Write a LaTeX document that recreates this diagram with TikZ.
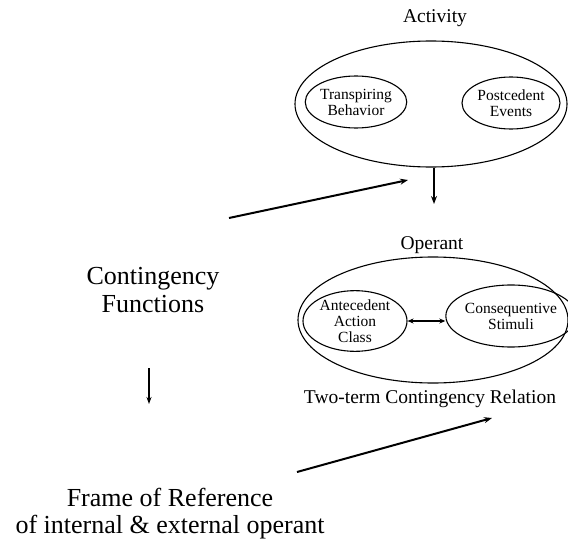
\documentclass[tikz,border=0pt]{standalone}
\usepackage{fontspec}
\setmainfont{Liberation Serif}
\usetikzlibrary{shapes.geometric,arrows.meta}
\begin{document}
\begin{tikzpicture}[x=1pt,y=-1pt,
  oval/.style={ellipse,draw,line width=1.1pt,inner sep=0pt,align=center},
  toplabel/.style={font=\fontsize{19.5}{21}\selectfont},
  smalltext/.style={font=\fontsize{15.5}{17}\selectfont},
  bigtext/.style={font=\fontsize{26}{28}\selectfont,align=center},
  arr/.style={line width=2pt,-{Stealth[length=8pt,width=6pt]}},
  thinarr/.style={line width=1.4pt,-{Stealth[length=7pt,width=5pt]}}]
\useasboundingbox (0,0) rectangle (568,543);

% Activity
\node[toplabel] (activity) at (435,18) {Activity};
\node[oval,minimum width=272pt,minimum height=126pt] (actOuter) at (431,104) {};
\node[oval,smalltext,minimum width=98pt,minimum height=52pt] (transp) at (356,102) {Transpiring\\[-1pt]Behavior};
\node[oval,smalltext,minimum width=98pt,minimum height=52pt] (postc) at (511,103) {Postcedent\\[-1pt]Events};

% Operant
\node[toplabel] (operant) at (432,245) {Operant};
\node[oval,minimum width=270pt,minimum height=126pt] (opOuter) at (433,320) {};
\node[oval,smalltext,minimum width=104pt,minimum height=56pt] (antec) at (355,321) {Antecedent\\[-1pt]Action\\[-1pt]Class};
\node[oval,smalltext,minimum width=110pt,minimum height=62pt] (conseq) at (511,316) {Consequentive\\[-1pt]Stimuli};
\node[toplabel] (twoterm) at (430,399) {Two-term Contingency Relation};

% Left column
\node[bigtext] (contfn) at (153,290) {Contingency\\Functions};
\node[bigtext] (frame) at (170,514) {Frame of Reference\\[-1pt]of internal \& external operant};

% Connectors
\coordinate (actTip) at (434,204);
\draw[arr] (actTip |- actOuter.south) -- (actTip);

\coordinate (upA) at (229,218);
\coordinate (upAtip) at (408,180);
\draw[arr] (upA) -- (upAtip);

\coordinate (upB) at (297,472);
\coordinate (upBtip) at (492,418);
\draw[arr] (upB) -- (upBtip);

\coordinate (cfTop) at (149,368);
\coordinate (cfTip) at (149,404);
\draw[thinarr] (cfTop) -- (cfTip);

\draw[line width=1.6pt,{Stealth[length=6pt,width=5pt]}-{Stealth[length=6pt,width=5pt]}]
  (antec.east) -- (conseq.west |- antec.east);
\end{tikzpicture}
\end{document}
